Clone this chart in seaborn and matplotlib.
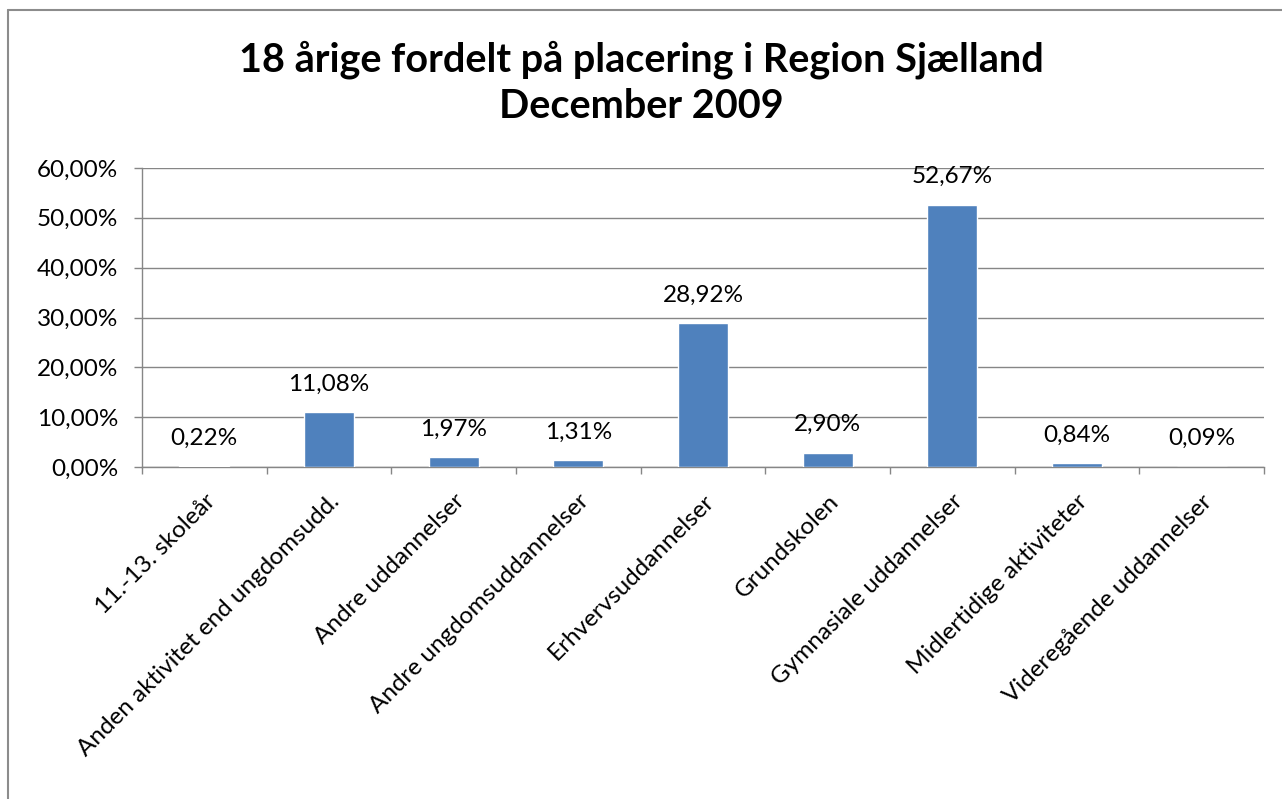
import seaborn as sns
import matplotlib.pyplot as plt
import matplotlib.ticker as mticker
from matplotlib.lines import Line2D

# data
kategorier = ["11.-13. skoleår", "Anden aktivitet end ungdomsudd.", "Andre uddannelser",
              "Andre ungdomsuddannelser", "Erhvervsuddannelser", "Grundskolen",
              "Gymnasiale uddannelser", "Midlertidige aktiviteter", "Videregående uddannelser"]
andel = [0.22, 11.08, 1.97, 1.31, 28.92, 2.90, 52.67, 0.84, 0.09]
yticks = [0, 10, 20, 30, 40, 50, 60]

sns.set_style("white")
plt.rcParams['font.family'] = ['Lato', 'DejaVu Sans']
plt.rcParams['text.color'] = 'black'

W, H = 1282, 799
fig = plt.figure(figsize=(W / 100, H / 100), dpi=100)
ax = fig.add_axes([142 / W, 1 - 467 / H, (1264 - 142) / W, (467 - 168) / H])

grå = "#868686"
fs = 17.5
sns.barplot(x=kategorier, y=andel, color="#4F81BD", saturation=1, width=0.4, ax=ax, zorder=3)

ax.set_ylim(0, 60)
ax.set_xlim(-0.5, len(kategorier) - 0.5)
ax.set_yticks(yticks)
ax.yaxis.set_major_formatter(mticker.FuncFormatter(lambda v, p: f"{v:.2f}%".replace(".", ",")))
ax.grid(axis="y", color=grå, linewidth=1, zorder=0)
ax.set_axisbelow(True)
ax.set_xlabel("")
ax.set_ylabel("")

for s in ["top", "right"]:
    ax.spines[s].set_visible(False)
for s in ["left", "bottom"]:
    ax.spines[s].set_color(grå)
    ax.spines[s].set_linewidth(1)

# ticks mellem kategorier
ax.set_xticks([i - 0.5 for i in range(len(kategorier) + 1)], minor=True)
ax.tick_params(axis="x", which="minor", length=5, color=grå, width=1, direction="out", bottom=True)
ax.tick_params(axis="x", which="major", length=0, pad=17, labelcolor="black")
ax.tick_params(axis="y", length=6, color=grå, width=1, direction="out", left=True, labelsize=fs, pad=11,
               labelcolor="black")
ax.set_xticklabels(kategorier, rotation=45, ha="right", rotation_mode="anchor", fontsize=fs)

for i, v in enumerate(andel):
    ax.annotate(f"{v:.2f}%".replace(".", ","), (i, v), xytext=(0, 20), textcoords="offset points",
                ha="center", va="center", fontsize=fs, color="black")

fig.text(0.5, 1 - 60 / H, "18 årige fordelt på placering i Region Sjælland", ha="center", va="center",
         fontsize=28.5, fontweight="bold", color="black")
fig.text(0.5, 1 - 106 / H, "December 2009", ha="center", va="center", fontsize=28.5, fontweight="bold",
         color="black")

# ramme
x0, y0 = 8 / W, 1 - 10 / H
fig.add_artist(Line2D([x0, x0], [0, y0], color="#8c8c8c", linewidth=1.5))
fig.add_artist(Line2D([x0, 1], [y0, y0], color="#8c8c8c", linewidth=1.5))

fig.savefig("out.png", dpi=100)
